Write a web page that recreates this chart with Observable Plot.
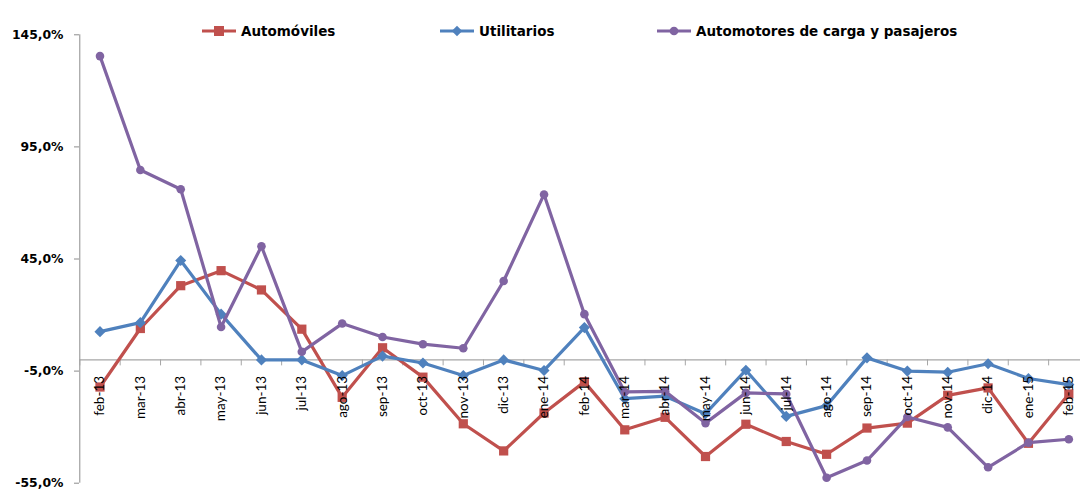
<!DOCTYPE html>
<html>
<head>
<meta charset="utf-8">
<script src="https://cdn.jsdelivr.net/npm/d3@7"></script>
<script src="https://cdn.jsdelivr.net/npm/@observablehq/plot@0.6"></script>
<style>
  html, body { margin: 0; padding: 0; background: #fff; overflow: hidden; }
  #wrap { position: relative; width: 1080px; height: 491px; }
  #legend { position: absolute; left: 0; top: 0; width: 1080px; height: 60px; pointer-events: none;
            font-family: "DejaVu Sans", sans-serif; font-weight: bold; font-size: 13.5px; color: #000; }
  .item { position: absolute; top: 21px; display: flex; align-items: center; height: 20px; white-space: nowrap; }
  .item svg { margin-right: 5px; }
</style>
</head>
<body>
<div id="wrap">
  <div id="chart"></div>
  <div id="legend"></div>
</div>
<script>
// Monthly year-on-year change (%) by vehicle type
const months = ["feb-13","mar-13","abr-13","may-13","jun-13","jul-13","ago-13","sep-13","oct-13","nov-13","dic-13","ene-14","feb-14","mar-14","abr-14","may-14","jun-14","jul-14","ago-14","sep-14","oct-14","nov-14","dic-14","ene-15","feb-15"];

const automoviles = [-12.1, 14.0, 33.1, 39.8, 31.2, 13.7, -16.7, 5.4, -7.7, -28.5, -40.6, -23.7, -9.8, -31.2, -25.6, -43.1, -28.7, -36.4, -42.1, -30.4, -28.2, -15.8, -12.5, -37.2, -15.2];
const utilitarios = [12.6, 16.6, 44.3, 20.4, 0.0, 0.0, -7.0, 1.7, -1.4, -7.0, 0.0, -4.7, 14.4, -17.3, -16.2, -24.0, -4.6, -25.2, -20.4, 0.9, -5.0, -5.5, -1.7, -8.3, -11.0];
const automotores = [135.5, 84.7, 76.1, 14.7, 50.7, 3.6, 16.2, 10.2, 7.0, 5.2, 35.2, 73.8, 20.4, -14.3, -14.0, -28.2, -14.7, -15.2, -52.6, -44.9, -25.5, -30.1, -47.9, -36.9, -35.4];

const yTicks = [-55, -5, 45, 95, 145];

const seriesDefs = [
  {name: "Automóviles", values: automoviles, color: "#C0504D", symbol: "square", r: 5.2},
  {name: "Utilitarios", values: utilitarios, color: "#4F81BD", symbol: "diamond2", r: 5},
  {name: "Automotores de carga y pasajeros", values: automotores, color: "#8064A2", symbol: "circle", r: 4.3}
];

const rows = seriesDefs.map(s => months.map((m, i) => ({i, month: m, value: s.values[i]})));
const bounds = d3.range(-1, months.length).map(i => i + 0.5);
const fmt = d => d.toFixed(1).replace(".", ",") + "%";

const marks = [
  // vertical axis line and zero baseline
  Plot.ruleX([-0.5], {y1: -55, y2: 145, stroke: "#8c8c8c", strokeWidth: 1}),
  Plot.ruleY([0], {x1: -0.5, x2: months.length - 0.5, stroke: "#a6a6a6", strokeWidth: 1.2}),
  // category separators below the baseline
  Plot.ruleX(bounds, {y1: 0, y2: 0, insetBottom: -6, stroke: "#a6a6a6", strokeWidth: 1}),
  Plot.axisY({ticks: yTicks, tickFormat: fmt, tickSize: 5, tickPadding: 11, stroke: "#8c8c8c",
              fontSize: 12.4, fontWeight: "bold", fontFamily: "'DejaVu Sans', sans-serif", fill: "#000", label: null})
];

seriesDefs.forEach((s, k) => {
  marks.push(Plot.line(rows[k], {x: "i", y: "value", stroke: s.color, strokeWidth: 3.2, strokeLinejoin: "round"}));
  marks.push(Plot.dot(rows[k], {x: "i", y: "value", fill: s.color, stroke: "none", symbol: s.symbol, r: s.r}));
});

// month labels hanging under the baseline, drawn above the series
marks.push(Plot.text(months, {x: (d, i) => i, y: () => 0, text: d => d, rotate: -90, textAnchor: "end",
                              dy: 16, fontSize: 13.5, fontFamily: "Lato, 'Open Sans', sans-serif", fill: "#000"}));

const chart = Plot.plot({
  width: 1080,
  height: 491,
  marginLeft: 79,
  x: {type: "linear", domain: [-0.5, months.length - 0.5], range: [79.3, 1088.5], axis: null},
  y: {domain: [-55, 145], range: [482.7, 34.3], axis: null},
  marks
});
document.getElementById("chart").appendChild(chart);

// legend row
const legendPos = [202, 440, 657];
const legend = document.getElementById("legend");
seriesDefs.forEach((s, k) => {
  const item = document.createElement("div");
  item.className = "item";
  item.style.left = legendPos[k] + "px";
  const sw = d3.create("svg").attr("width", 34).attr("height", 14);
  sw.append("line").attr("x1", 0).attr("x2", 34).attr("y1", 7).attr("y2", 7)
    .attr("stroke", s.color).attr("stroke-width", 3);
  sw.append("path").attr("transform", "translate(17,7)")
    .attr("d", d3.symbol(s.symbol === "square" ? d3.symbolSquare : s.symbol === "circle" ? d3.symbolCircle : d3.symbolDiamond2,
                          s.symbol === "square" ? 100 : s.symbol === "circle" ? 60 : 70)())
    .attr("fill", s.color);
  item.appendChild(sw.node());
  const t = document.createElement("span");
  t.textContent = s.name;
  item.appendChild(t);
  legend.appendChild(item);
});
</script>
</body>
</html>
